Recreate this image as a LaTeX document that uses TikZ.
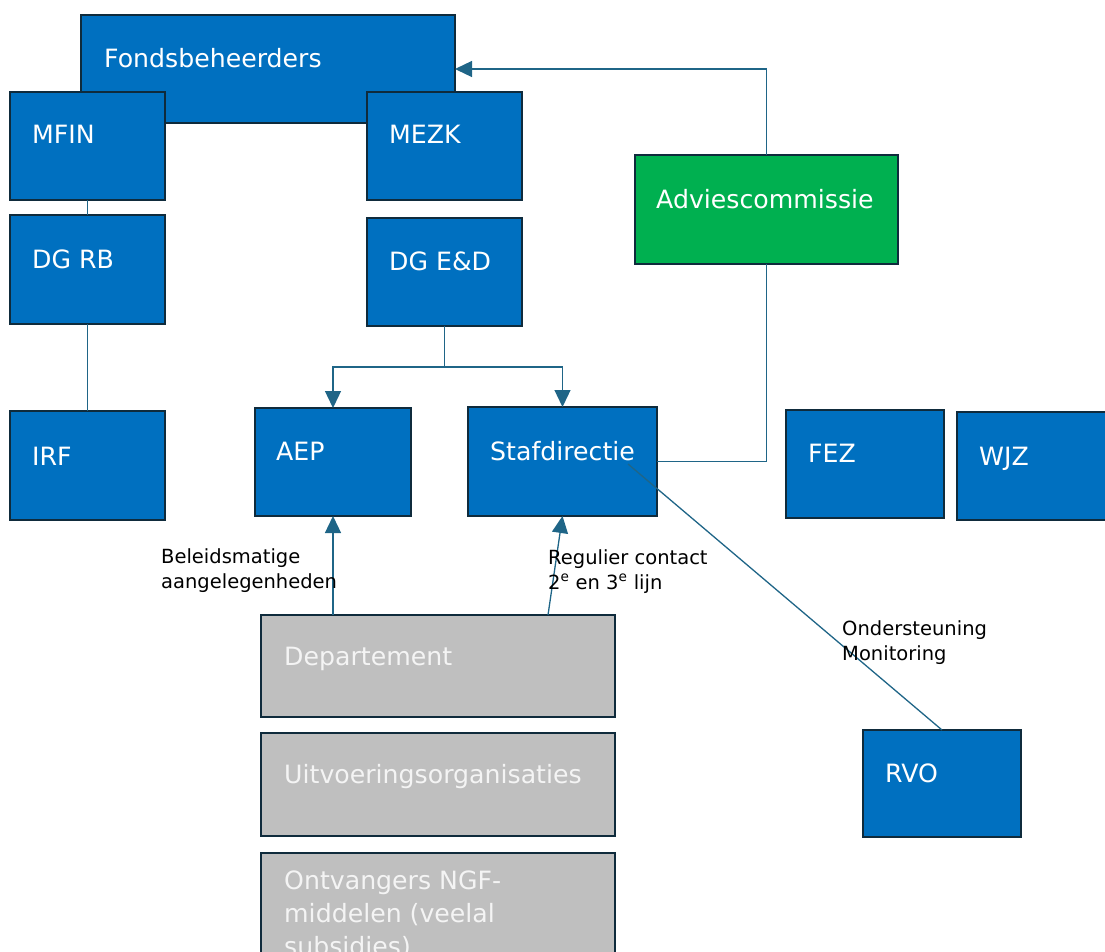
\documentclass[tikz,border=0pt]{standalone}
\usepackage{fontspec}
\setmainfont{DejaVu Sans}
\usetikzlibrary{arrows.meta}
\definecolor{boxblue}{HTML}{0070C0}
\definecolor{boxgreen}{HTML}{00B050}
\definecolor{boxgray}{HTML}{BFBFBF}
\definecolor{edgedark}{HTML}{0F2B3C}
\definecolor{linkblue}{HTML}{1F6587}
\definecolor{softwhite}{HTML}{F4F4F4}
\begin{document}
\begin{tikzpicture}[x=1pt,y=-1pt,
  box/.style={draw=edgedark, line width=2.5pt, anchor=north west, inner sep=0pt, outer sep=0pt},
  bluebox/.style={box, fill=boxblue},
  greenbox/.style={box, fill=boxgreen},
  graybox/.style={box, fill=boxgray},
  boxtext/.style={anchor=base west, inner sep=0pt, text=white, font=\fontsize{25.2}{33}\selectfont, align=left},
  graytext/.style={boxtext, text=softwhite},
  note/.style={anchor=base west, inner sep=0pt, text=black, font=\fontsize{19.5}{25}\selectfont, align=left},
  link/.style={draw=linkblue, line width=1.3pt},
  arr/.style={link, -{Triangle[length=17pt,width=16pt]}}]
\useasboundingbox (0,0) rectangle (1105,951);
\clip (0,0) rectangle (1105,951);

% boxes
\node[bluebox, minimum width=374pt, minimum height=108pt] (fonds) at (81,15) {};
\node[bluebox, minimum width=155pt, minimum height=108pt] (mfin) at (10,92) {};
\node[bluebox, minimum width=155pt, minimum height=108pt] (mezk) at (367,92) {};
\node[bluebox, minimum width=155pt, minimum height=109pt] (dgrb) at (10,215) {};
\node[bluebox, minimum width=155pt, minimum height=108pt] (dged) at (367,218) {};
\node[greenbox, minimum width=263pt, minimum height=109pt] (advies) at (635,155) {};
\node[bluebox, minimum width=155pt, minimum height=109pt] (irf) at (10,411) {};
\node[bluebox, minimum width=156pt, minimum height=108pt] (aep) at (255,408) {};
\node[bluebox, minimum width=189pt, minimum height=109pt] (staf) at (468,407) {};
\node[bluebox, minimum width=158pt, minimum height=108pt] (fez) at (786,410) {};
\node[bluebox, minimum width=170pt, minimum height=108pt] (wjz) at (957,412) {};
\node[graybox, minimum width=354pt, minimum height=102pt] (dep) at (261,615) {};
\node[graybox, minimum width=354pt, minimum height=103pt] (uitv) at (261,733) {};
\node[graybox, minimum width=354pt, minimum height=130pt] (ontv) at (261,853) {};
\node[bluebox, minimum width=158pt, minimum height=107pt] (rvo) at (863,730) {};

% box texts (multi-line nodes: base = last line's baseline)
\node[boxtext] (fondst) at (104,67) {Fondsbeheerders};
\node[boxtext] (mfint) at (32,143) {MFIN};
\node[boxtext] (mezkt) at (389,143) {MEZK};
\node[boxtext] (dgrbt) at (32,268) {DG RB};
\node[boxtext] (dgedt) at (389,270) {DG E\&D};
\node[boxtext] (adviest) at (656,208) {Adviescommissie};
\node[boxtext] (irft) at (32,465) {IRF};
\node[boxtext] (aept) at (276,460) {AEP};
\node[boxtext] (staft) at (490,460) {Stafdirectie};
\node[boxtext] (fezt) at (808,462) {FEZ};
\node[boxtext] (wjzt) at (979,465) {WJZ};
\node[graytext] (dept) at (284,665) {Departement};
\node[graytext] (uitvt) at (284,783) {Uitvoeringsorganisaties};
\node[graytext] (ontvt) at (284,955) {Ontvangers NGF-\\middelen (veelal\\subsidies)};
\node[boxtext] (rvot) at (885,782) {RVO};

% connectors
\draw[link] (mfin.south) -- (dgrb.north);
\draw[link] (dgrb.south) -- (irf.north);
\draw[arr] (dged.south) -- ++(0,41) -| (aep.north);
\draw[arr] (dged.south) -- ++(0,41) -| (staf.north);
\draw[arr] (advies.north) |- (fonds.east);
\draw[link] (advies.south) |- (staf.east);
\coordinate (stafout) at ([shift={(160,57)}]staf.north west);
\draw[link] (stafout) -- (rvo.north);
\coordinate (depl) at ([xshift=72pt]dep.north west);
\coordinate (depr) at ([xshift=287pt]dep.north west);
\draw[arr] (depl) -- (aep.south);
\draw[arr] (depr) -- (staf.south);

% labels
\node[note] (lbl1) at (161,588) {Beleidsmatige\\aangelegenheden};
\node[note] (lbl2) at (548,589) {Regulier contact\\2\textsuperscript{e} en 3\textsuperscript{e} lijn};
\node[note] (lbl3) at (842,660) {Ondersteuning\\Monitoring};
\end{tikzpicture}
\end{document}
